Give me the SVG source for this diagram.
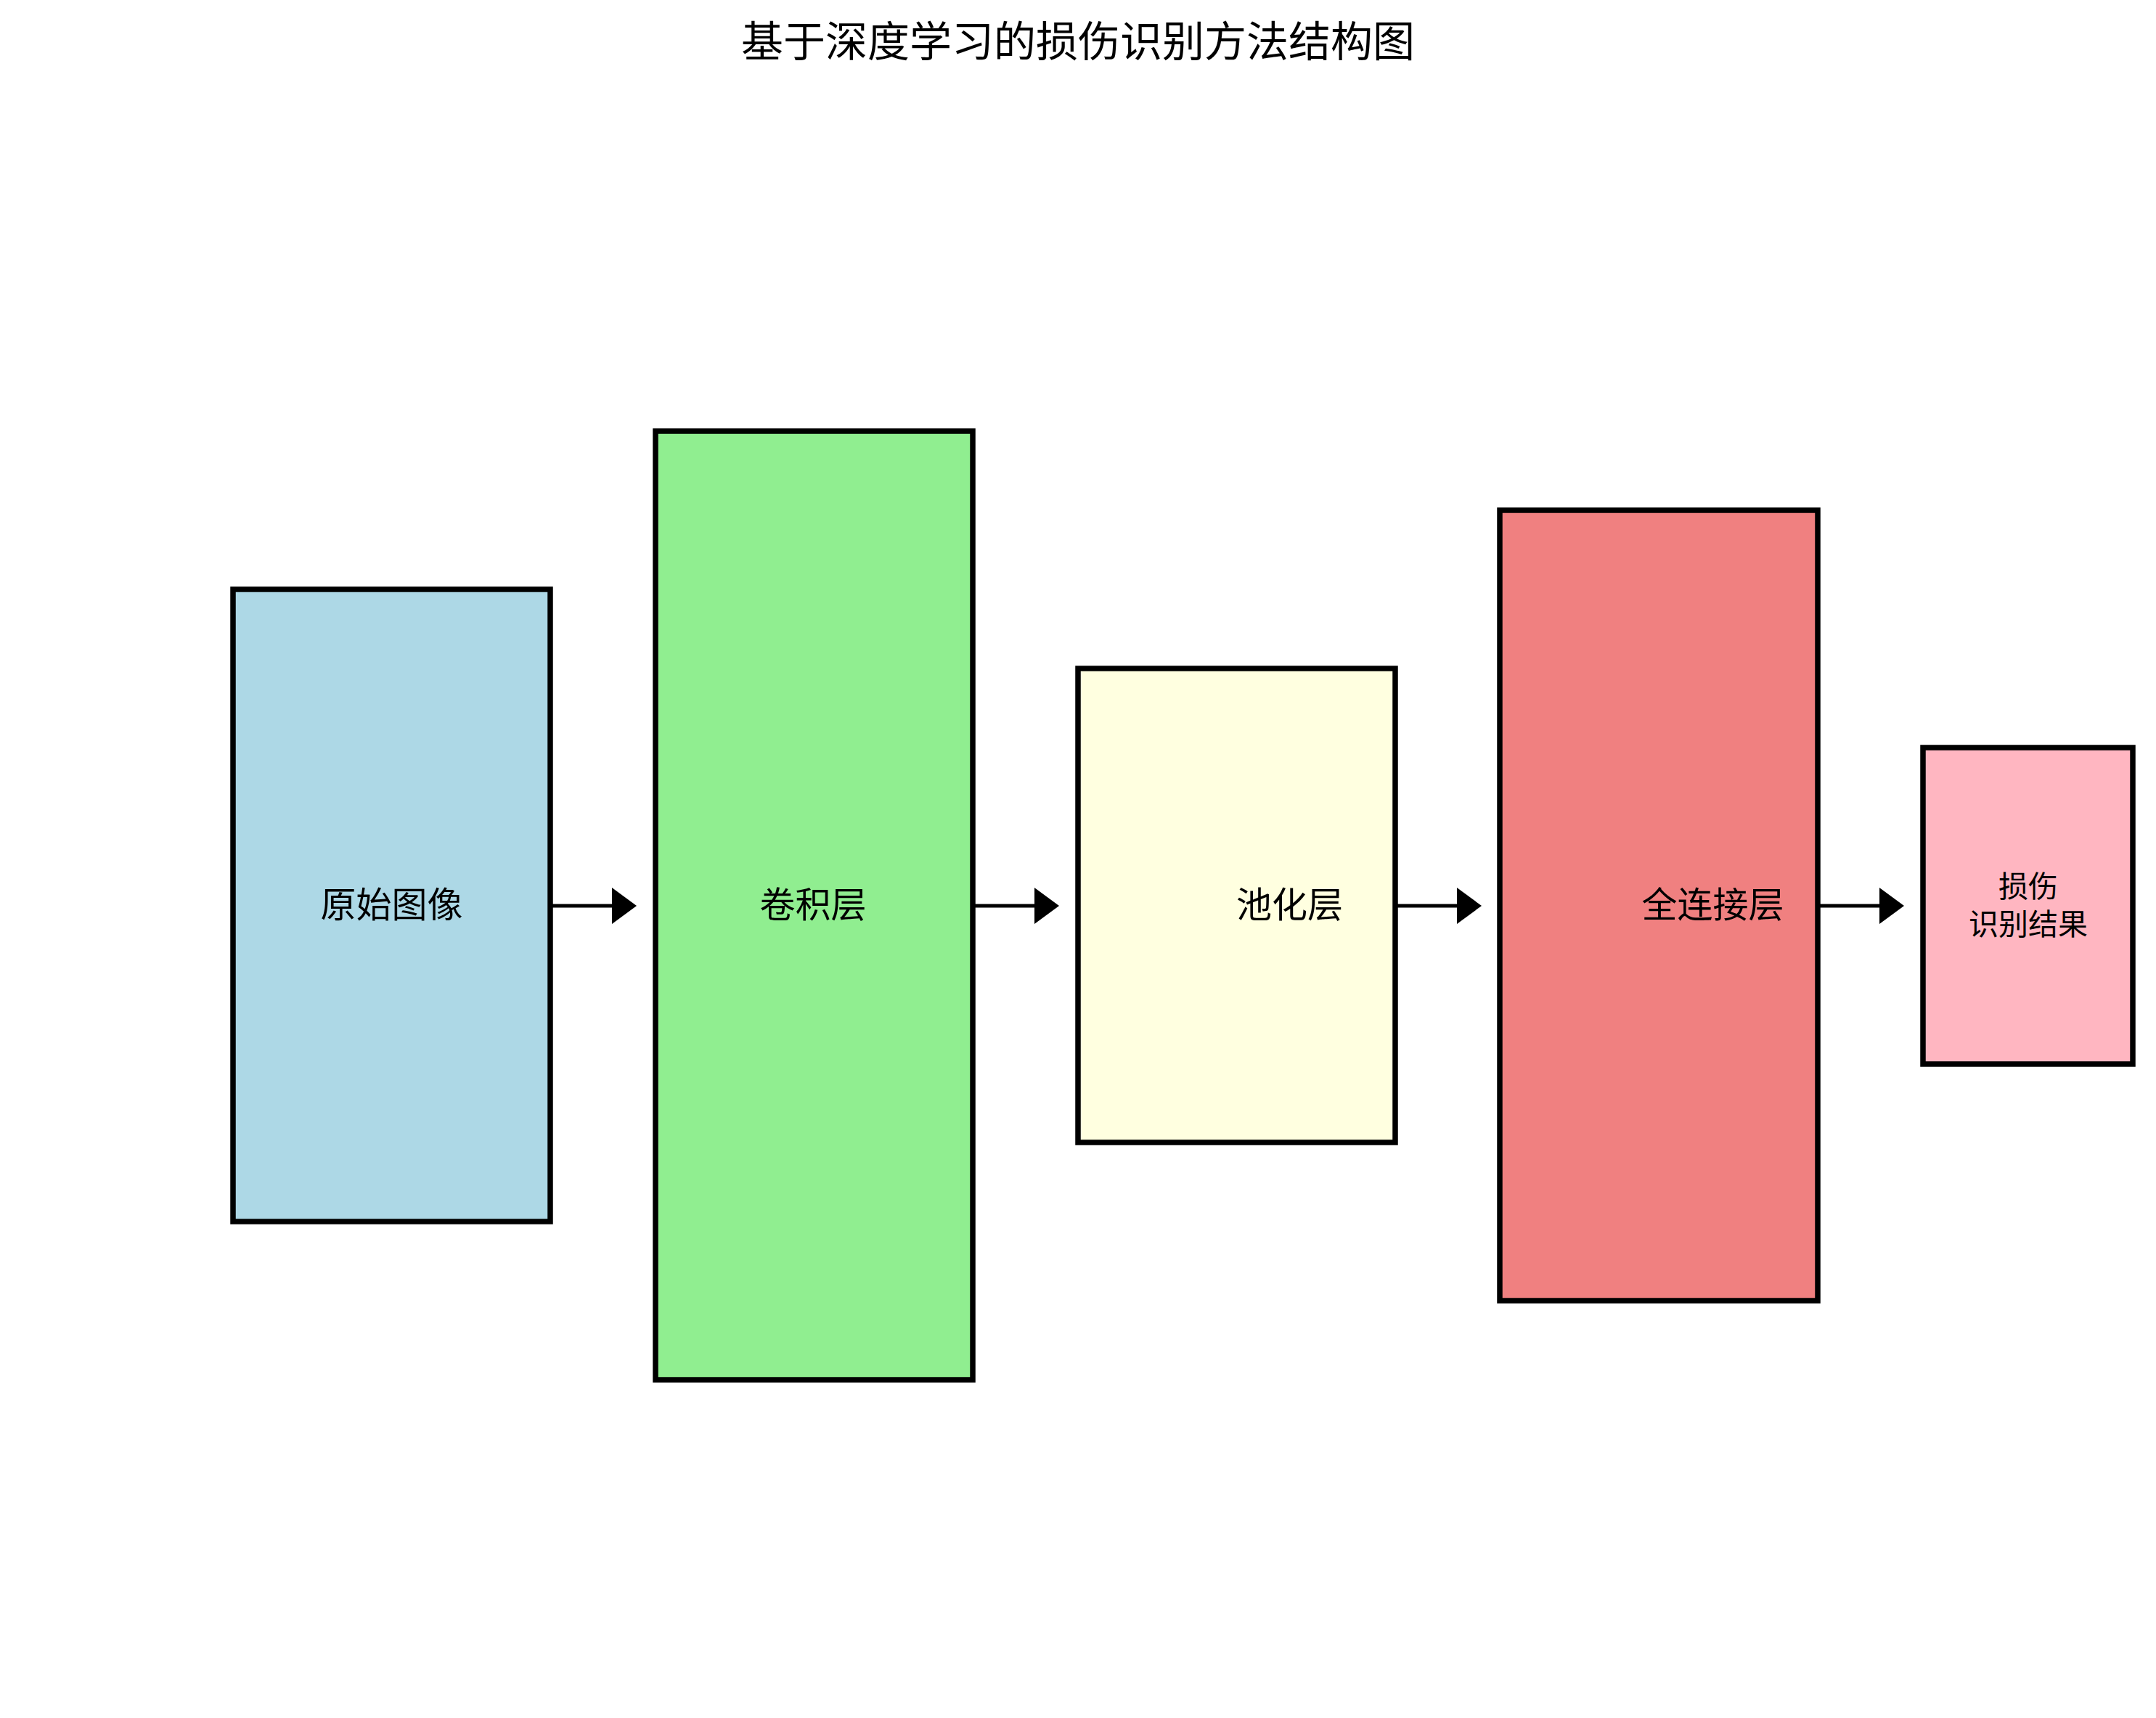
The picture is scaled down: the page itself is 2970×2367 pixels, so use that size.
<svg xmlns="http://www.w3.org/2000/svg" width="2970" height="2367" viewBox="0 0 2970 2367">
  <style>
    .box { stroke: #000000; stroke-width: 7.5; }
    .lbl { font-family: "Noto Sans CJK SC", "Noto Sans", sans-serif; font-size: 49px; fill: #000000; text-anchor: middle; }
    .lbl-s { font-family: "Noto Sans CJK SC", "Noto Sans", sans-serif; font-size: 41px; fill: #000000; text-anchor: middle; }
    .title { font-family: "Noto Sans CJK SC", "Noto Sans", sans-serif; font-size: 58px; fill: #000000; text-anchor: middle; }
    .conn { stroke: #000000; stroke-width: 5; fill: none; }
    .head { fill: #000000; stroke: none; }
  </style>
  <rect x="0" y="0" width="2970" height="2367" fill="#ffffff"/>
  <text class="title" x="1485" y="78">基于深度学习的损伤识别方法结构图</text>

  <g id="node-input">
    <rect class="box" x="321" y="812" width="437" height="871" fill="#ADD8E6"/>
    <text class="lbl" x="539.5" y="1264">原始图像</text>
  </g>
  <g id="node-conv">
    <rect class="box" x="903" y="594" width="437" height="1307" fill="#90EE90"/>
    <text class="lbl" x="1120" y="1264">卷积层</text>
  </g>
  <g id="node-pool">
    <rect class="box" x="1485" y="921" width="437" height="653" fill="#FFFFE0"/>
    <text class="lbl" x="1776.5" y="1264">池化层</text>
  </g>
  <g id="node-fc">
    <rect class="box" x="2066" y="703" width="438" height="1089" fill="#F08080"/>
    <text class="lbl" x="2359.5" y="1264">全连接层</text>
  </g>
  <g id="node-result">
    <rect class="box" x="2649" y="1030" width="289" height="436" fill="#FFB6C1"/>
    <text class="lbl-s" x="2794" y="1236"><tspan x="2794" y="1236">损伤</tspan><tspan x="2794" y="1288">识别结果</tspan></text>
  </g>

  <g id="connectors">
    <line class="conn" x1="758" y1="1248" x2="845" y2="1248"/>
    <polygon class="head" points="843,1223 877,1248 843,1273"/>
    <line class="conn" x1="1340" y1="1248" x2="1427" y2="1248"/>
    <polygon class="head" points="1425,1223 1459,1248 1425,1273"/>
    <line class="conn" x1="1922" y1="1248" x2="2009" y2="1248"/>
    <polygon class="head" points="2007,1223 2041,1248 2007,1273"/>
    <line class="conn" x1="2504" y1="1248" x2="2591" y2="1248"/>
    <polygon class="head" points="2589,1223 2623,1248 2589,1273"/>
  </g>
</svg>
